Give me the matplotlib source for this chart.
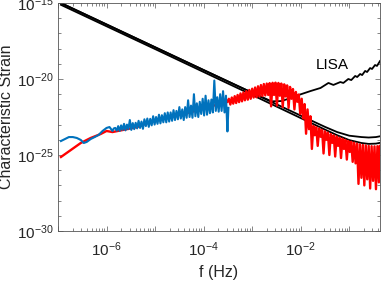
import matplotlib
matplotlib.use("Agg")
import matplotlib.pyplot as plt
import numpy as np

# All values are log10 of frequency (Hz) and log10 of characteristic strain

# detector curves
black_logf = [-6.94, -6.0, -5.0, -4.0, -3.0, -2.5, -2.0, -1.75, -1.5, -1.25,
              -1.0, -0.75, -0.6, -0.45, -0.37]
upper_logh = [-15.0, -16.41, -17.91, -19.41, -20.91, -21.66, -22.41, -22.78, -23.15, -23.49,
              -23.73, -23.82, -23.85, -23.82, -23.77]
lower_logh = [-15.12, -16.53, -18.03, -19.54, -21.05, -21.81, -22.57, -22.95, -23.33, -23.70,
              -24.02, -24.21, -24.27, -24.25, -24.20]

lisa_logf = [-6.94, -5.0, -4.0, -3.0, -2.6, -2.4, -2.2, -2.04, -1.796, -1.592,
             -1.429, -1.327, -1.184, -1.122, -1.02, -0.959, -0.878, -0.837, -0.776, -0.735,
             -0.673, -0.633, -0.571, -0.531, -0.469, -0.429, -0.367]
lisa_logh = [-15.0, -17.91, -19.41, -20.9, -21.47, -21.45, -21.25, -21.05, -20.79, -20.59,
             -20.26, -20.39, -20.20, -20.26, -20.0, -20.07, -19.80, -19.87, -19.67, -19.74,
             -19.47, -19.54, -19.28, -19.34, -19.08, -19.14, -18.82]

# red spectrum: smooth low-frequency part, then the noisy band
red_low_logf = [-6.939, -6.735, -6.531, -6.327, -6.122, -6.0, -5.878, -5.673, -5.367, -5.061,
                -4.857, -4.551, -4.245, -3.939, -3.735, -3.51]
red_low_logh = [-25.13, -24.67, -24.21, -23.88, -23.62, -23.42, -23.49, -23.36, -23.16, -22.76,
                -22.63, -22.37, -22.17, -21.84, -21.71, -21.51]

red_high_logf = [-3.48, -3.45, -3.42, -3.39, -3.36, -3.33, -3.30, -3.27, -3.24, -3.21,
                 -3.18, -3.15, -3.12, -3.09, -3.06, -3.03, -3.00, -2.97, -2.94, -2.91,
                 -2.88, -2.85, -2.82, -2.79, -2.76, -2.73, -2.70, -2.67, -2.64, -2.61,
                 -2.58, -2.55, -2.52, -2.49, -2.46, -2.43, -2.40, -2.37, -2.34, -2.31,
                 -2.28, -2.25, -2.22, -2.19, -2.16, -2.13, -2.10, -2.07, -2.04, -2.01,
                 -1.98, -1.95, -1.92, -1.89, -1.86, -1.83, -1.80, -1.77, -1.74, -1.71,
                 -1.68, -1.65, -1.62, -1.59, -1.56, -1.53, -1.50, -1.47, -1.44, -1.41,
                 -1.38, -1.35, -1.32, -1.29, -1.26, -1.23, -1.20, -1.17, -1.14, -1.11,
                 -1.08, -1.05, -1.02, -0.99, -0.96, -0.93, -0.90, -0.87, -0.84, -0.81,
                 -0.78, -0.75, -0.72, -0.69, -0.66, -0.63, -0.60, -0.57, -0.54, -0.51,
                 -0.48, -0.45, -0.42, -0.39, -0.37]
red_high_logh = [-21.30, -21.68, -21.22, -21.62, -21.13, -21.58, -21.05, -21.52, -20.95, -21.47,
                 -20.88, -21.40, -20.80, -21.36, -20.72, -21.30, -20.64, -21.22, -20.56, -21.20,
                 -20.48, -21.15, -20.40, -21.12, -20.33, -21.08, -20.30, -21.05, -20.27, -21.80,
                 -20.25, -21.05, -20.24, -21.75, -20.26, -21.10, -20.30, -21.85, -20.35, -21.15,
                 -20.42, -21.90, -20.52, -21.30, -20.66, -22.00, -20.85, -21.50, -21.02, -22.30,
                 -21.30, -22.60, -21.65, -23.60, -22.00, -23.30, -22.45, -24.60, -23.08, -23.70,
                 -23.17, -24.40, -23.26, -23.80, -23.35, -24.90, -23.44, -24.00, -23.53, -25.00,
                 -23.62, -24.20, -23.70, -25.10, -23.78, -24.40, -23.86, -25.20, -23.93, -24.60,
                 -24.00, -25.30, -24.07, -24.80, -24.13, -25.45, -24.19, -25.55, -24.25, -26.90,
                 -24.30, -26.50, -24.34, -27.00, -24.37, -26.60, -24.40, -27.20, -24.42, -26.70,
                 -24.43, -27.25, -24.42, -26.80, -24.40]

# blue spectrum
blue_low_logf = [-6.939, -6.857, -6.776, -6.694, -6.612, -6.531, -6.469, -6.408, -6.327, -6.245,
                 -6.163, -6.082, -6.0, -5.939, -5.878, -5.85]
blue_low_logh = [-24.08, -23.95, -23.82, -23.82, -23.88, -24.01, -24.21, -24.14, -23.95, -23.82,
                 -23.68, -23.42, -23.22, -23.16, -23.42, -23.25]

blue_high_logf = [-5.82, -5.79, -5.76, -5.73, -5.70, -5.67, -5.64, -5.61, -5.58, -5.55,
                  -5.52, -5.49, -5.46, -5.43, -5.40, -5.37, -5.34, -5.31, -5.28, -5.25,
                  -5.22, -5.19, -5.16, -5.13, -5.10, -5.07, -5.04, -5.01, -4.98, -4.95,
                  -4.92, -4.89, -4.86, -4.83, -4.80, -4.77, -4.74, -4.71, -4.68, -4.65,
                  -4.62, -4.59, -4.56, -4.53, -4.50, -4.47, -4.44, -4.41, -4.38, -4.35,
                  -4.32, -4.29, -4.26, -4.23, -4.20, -4.17, -4.14, -4.11, -4.08, -4.05,
                  -4.02, -3.99, -3.96, -3.93, -3.90, -3.87, -3.84, -3.81, -3.78, -3.75,
                  -3.72, -3.69, -3.66, -3.63, -3.60, -3.57, -3.54, -3.51, -3.49]
blue_high_logh = [-23.22, -23.40, -23.10, -23.42, -23.05, -23.35, -22.95, -23.38, -23.00, -23.30,
                  -22.70, -23.35, -22.90, -23.30, -22.88, -23.25, -22.75, -23.22, -22.80, -23.28,
                  -22.65, -23.10, -22.60, -23.15, -22.62, -23.05, -22.45, -23.00, -22.50, -22.95,
                  -22.35, -22.92, -22.38, -22.85, -22.25, -22.85, -22.20, -22.80, -22.20, -22.75,
                  -22.05, -22.70, -22.10, -22.65, -21.85, -22.60, -22.00, -22.70, -21.85, -22.55,
                  -21.40, -22.50, -21.75, -22.55, -21.00, -22.45, -21.60, -22.50, -21.50, -22.30,
                  -21.30, -22.40, -21.10, -22.35, -21.40, -22.25, -21.35, -22.20, -20.10, -22.10,
                  -21.20, -22.15, -21.00, -22.10, -20.80, -22.20, -21.10, -23.45, -21.90]

x_major_exp = [-7, -6, -5, -4, -3, -2, -1]
y_major_exp = [-30, -25, -20, -15]


def tenpow(vals):
    return np.power(10.0, np.asarray(vals, dtype=float))


plt.rcParams['font.family'] = ['Liberation Sans', 'DejaVu Sans']
plt.rcParams['mathtext.fontset'] = 'custom'
plt.rcParams['mathtext.rm'] = 'Liberation Sans'
plt.rcParams['mathtext.it'] = 'Liberation Sans:italic'
plt.rcParams['mathtext.bf'] = 'Liberation Sans:bold'

fig = plt.figure(figsize=(3.82, 2.81), dpi=100)
ax = fig.add_axes([58 / 382, 50 / 281, 322 / 382, 228 / 281])

# black detector curves first, spectra drawn over them
ax.loglog(tenpow(black_logf), tenpow(upper_logh), color='k', lw=1.3)
ax.loglog(tenpow(black_logf), tenpow(lower_logh), color='k', lw=1.3)
ax.loglog(tenpow(lisa_logf), tenpow(lisa_logh), color='k', lw=1.3)

red_f = tenpow(red_low_logf + red_high_logf)
red_h = tenpow(red_low_logh + red_high_logh)
ax.loglog(red_f, red_h, color='#ff0000', lw=1.7)

blue_f = tenpow(blue_low_logf + blue_high_logf)
blue_h = tenpow(blue_low_logh + blue_high_logh)
ax.loglog(blue_f, blue_h, color='#0072bd', lw=1.5)

ax.text(10 ** -1.35, 10 ** -19.1, 'LISA', ha='center', va='center', fontsize=11)

ax.set_xlim(10 ** -6.94, 10 ** -0.367)
ax.set_ylim(1e-30, 1e-15)

# MATLAB-like ticks: labels every other decade on x, every 5 decades on y
ax.set_xticks(tenpow(x_major_exp))
ax.set_xticklabels(['$10^{%d}$' % e if e % 2 == 0 else '' for e in x_major_exp])
ax.xaxis.set_minor_locator(matplotlib.ticker.LogLocator(base=10, subs=np.arange(2, 10), numticks=20))
ax.xaxis.set_minor_formatter(matplotlib.ticker.NullFormatter())

ax.set_yticks(tenpow(y_major_exp))
ax.set_yticklabels(['$10^{%d}$' % e for e in y_major_exp])
y_minor = [e for e in range(-30, -14) if e not in y_major_exp]
ax.set_yticks(tenpow(y_minor), minor=True)
ax.yaxis.set_minor_formatter(matplotlib.ticker.NullFormatter())

ax.tick_params(which='both', direction='in', top=True, right=True,
               color='#555555', width=0.5, labelsize=11, labelcolor='#262626')
ax.tick_params(which='major', length=3.5)
ax.tick_params(which='minor', length=2)
ax.tick_params(axis='x', pad=7)
ax.tick_params(axis='y', pad=3)
for sp in ax.spines.values():
    sp.set_color('#555555')
    sp.set_linewidth(0.6)

ax.set_xlabel('f (Hz)', fontsize=11.5, color='#262626', labelpad=4)
ax.set_ylabel('Characteristic Strain', fontsize=11.5, color='#262626')
ax.yaxis.set_label_coords(-0.137, 0.5)

fig.savefig('out.png', dpi=100)
